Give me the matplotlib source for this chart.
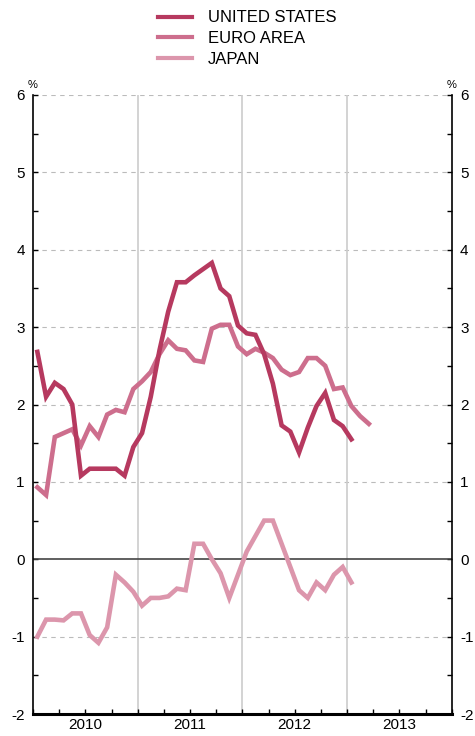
import matplotlib
matplotlib.use('Agg')
import matplotlib.pyplot as plt
import numpy as np

US_COLOR = '#b6395f'
EA_COLOR = '#cd6e8d'
JP_COLOR = '#dc96ac'

plt.rcParams['font.family'] = ['Liberation Sans', 'DejaVu Sans']
plt.rcParams['axes.unicode_minus'] = False

# monthly inflation, Jan 2010 onwards
us = [2.68, 2.1, 2.28, 2.2, 2.0, 1.08, 1.17, 1.17, 1.17, 1.17, 1.08, 1.45,
      1.63, 2.1, 2.7, 3.2, 3.58, 3.58, 3.67, 3.75, 3.83, 3.5, 3.4, 3.02,
      2.92, 2.9, 2.65, 2.27, 1.73, 1.65, 1.38, 1.7, 1.98, 2.15, 1.8, 1.72,
      1.55]
euro = [0.93, 0.83, 1.58, 1.63, 1.68, 1.47, 1.72, 1.58, 1.87, 1.93, 1.9, 2.2,
        2.3, 2.42, 2.65, 2.83, 2.72, 2.7, 2.57, 2.55, 2.98, 3.03, 3.03, 2.75,
        2.65, 2.72, 2.67, 2.6, 2.45, 2.38, 2.42, 2.6, 2.6, 2.5, 2.2, 2.22,
        1.98, 1.85, 1.75]
japan = [-1.0, -0.78, -0.78, -0.79, -0.7, -0.7, -0.98, -1.08, -0.88, -0.2, -0.3, -0.42,
         -0.6, -0.5, -0.5, -0.48, -0.38, -0.4, 0.2, 0.2, 0.0, -0.18, -0.5, -0.2,
         0.1, 0.3, 0.5, 0.5, 0.2, -0.1, -0.4, -0.5, -0.3, -0.4, -0.2, -0.1,
         -0.3]
years = ['2010', '2011', '2012', '2013']

fig = plt.figure(figsize=(4.75, 7.36), dpi=100)
ax = fig.add_axes([33 / 475, 1 - 714 / 736, (451.7 - 33) / 475, (714 - 95) / 736])

# grid
for yv in [-1, 1, 2, 3, 4, 5, 6]:
    ax.axhline(yv, color='#bbbbbb', lw=0.8, ls=(0, (4, 4)), zorder=1)
for xv in [12, 24, 36]:
    ax.axvline(xv, color='#cccccc', lw=1.2, zorder=1)
ax.axhline(0, color='#444444', lw=1.2, zorder=2)

# data, plotted mid-month
ax.plot(np.arange(len(japan)) + 0.5, japan, color=JP_COLOR, lw=3.3, label='JAPAN', zorder=3, solid_joinstyle='miter')
ax.plot(np.arange(len(euro)) + 0.5, euro, color=EA_COLOR, lw=3.3, label='EURO AREA', zorder=4, solid_joinstyle='miter')
ax.plot(np.arange(len(us)) + 0.5, us, color=US_COLOR, lw=3.3, label='UNITED STATES', zorder=5, solid_joinstyle='miter')

ax.set_xlim(0, 48)
ax.set_ylim(-2, 6)

ax.spines['top'].set_visible(False)
for s in ['left', 'right']:
    ax.spines[s].set_linewidth(1.2)
ax.spines['bottom'].set_linewidth(2.2)

ax.set_yticks(range(-2, 7))
ax.set_yticks(np.arange(-1.5, 6, 1), minor=True)
ax.tick_params(axis='y', which='both', direction='in', length=3.5, width=1,
               left=True, right=True, labelleft=True, labelright=True,
               labelsize=11, pad=6)

ax.xaxis.remove_overlapping_locs = False
ax.set_xticks(np.arange(0, 49, 3))
ax.set_xticklabels([])
ax.set_xticks([6, 18, 30, 42], minor=True)
ax.set_xticklabels(years, minor=True)
ax.tick_params(axis='x', which='major', direction='in', length=3.5, width=1)
ax.tick_params(axis='x', which='minor', length=0, labelsize=11, pad=3)

fig.text(33 / 475, 1 - 85 / 736, '%', ha='center', va='center', fontsize=8)
fig.text(452 / 475, 1 - 85 / 736, '%', ha='center', va='center', fontsize=8)

handles, labels = ax.get_legend_handles_labels()
leg = fig.legend(handles[::-1], labels[::-1], loc='upper left',
                 bbox_to_anchor=(150 / 475, 1 - 2 / 736), frameon=False,
                 fontsize=12, handlelength=2.0, handletextpad=0.95,
                 labelspacing=0.34, borderpad=0)
for line in leg.get_lines():
    line.set_linewidth(3)

fig.savefig('out.png', dpi=100)
